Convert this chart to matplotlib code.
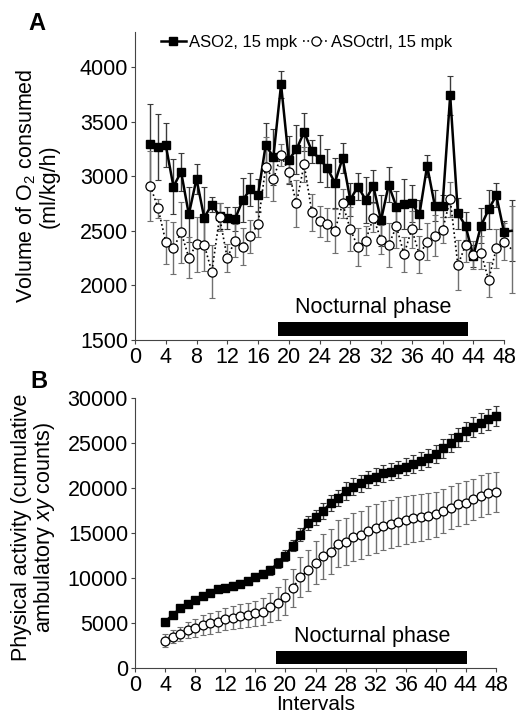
"""O2 consumption (A) and cumulative ambulatory activity (B) per interval,
ASO2 vs ASOctrl at 15 mpk, with the nocturnal phase marked."""

import matplotlib

matplotlib.use("Agg")
import matplotlib.pyplot as plt

plt.rcParams["font.family"] = ["Liberation Sans", "DejaVu Sans"]
plt.rcParams["mathtext.fontset"] = "custom"
plt.rcParams["mathtext.rm"] = "Liberation Sans"
plt.rcParams["mathtext.it"] = "Liberation Sans:italic"

# ---- panel A: volume of O2 consumed (ml/kg/h), intervals 2..49 ----
intervals_a = list(range(2, 50))
aso2_vo2 = [3290, 3265, 3285, 2905, 3040, 2650, 2975, 2620, 2740, 2635, 2620, 2605,
            2780, 2880, 2825, 3285, 3175, 3840, 3150, 3245, 3405, 3230, 3160, 3075,
            2940, 3165, 2785, 2905, 2785, 2910, 2595, 2920, 2720, 2745, 2750, 2650,
            3095, 2730, 2725, 3740, 2660, 2545, 2270, 2545, 2695, 2825, 2490, 2500]
aso2_vo2_err = [375, 300, 200, 250, 175, 250, 135, 285, 70, 120, 100, 110,
                200, 150, 150, 205, 260, 120, 220, 225, 170, 105, 215, 170,
                230, 140, 150, 120, 210, 150, 230, 160, 140, 230, 170, 130,
                100, 140, 100, 180, 140, 130, 100, 160, 175, 110, 100, 280]
ctrl_vo2 = [2910, 2705, 2400, 2340, 2485, 2255, 2375, 2370, 2125, 2625, 2250, 2410,
            2355, 2450, 2560, 3085, 2970, 3195, 3035, 2750, 3110, 2670, 2585, 2560,
            2500, 2750, 2515, 2350, 2410, 2620, 2420, 2370, 2540, 2285, 2515, 2280,
            2400, 2455, 2505, 2790, 2185, 2370, 2280, 2300, 2050, 2340, 2400, 2330]
ctrl_vo2_err = [317, 90, 200, 240, 280, 190, 250, 240, 245, 130, 130, 150,
                170, 150, 120, 275, 195, 100, 100, 215, 160, 170, 140, 150,
                200, 130, 200, 175, 130, 130, 130, 200, 200, 160, 170, 170,
                170, 190, 120, 160, 230, 160, 130, 150, 160, 180, 170, 400]

# ---- panel B: cumulative ambulatory xy counts, intervals 4..48 ----
intervals_b = list(range(4, 49))
aso2_counts = [5150, 5880, 6620, 7060, 7540, 8010, 8380, 8750, 8930, 9120,
               9370, 9630, 10110, 10400, 10840, 11690, 12500, 13600, 14810, 16100,
               16730, 17460, 18310, 18930, 19670, 20140, 20510, 20950, 21250, 21620,
               21800, 22060, 22350, 22640, 22980, 23340, 23820, 24410, 25000, 25620,
               26280, 26760, 27200, 27640, 28010]
aso2_counts_err = [250, 300, 300, 300, 300, 350, 350, 350, 350, 400,
                   400, 400, 450, 450, 500, 550, 600, 650, 700, 750,
                   800, 850, 900, 900, 950, 950, 950, 950, 950, 950,
                   950, 950, 950, 1000, 1000, 1000, 1000, 1050, 1050, 1050,
                   1100, 1100, 1100, 1150, 1150]
ctrl_counts = [3050, 3490, 3750, 4230, 4490, 4780, 4960, 5150, 5440, 5590,
               5770, 5880, 6070, 6250, 6730, 7170, 7900, 8930, 10110, 10840,
               11690, 12430, 12940, 13790, 14040, 14520, 14780, 15260, 15510, 15810,
               15990, 16250, 16470, 16620, 16730, 16910, 17090, 17460, 17830, 18200,
               18380, 18750, 19120, 19410, 19560]
ctrl_counts_err = [700, 700, 800, 900, 1000, 1100, 1150, 1200, 1250, 1300,
                   1300, 1350, 1400, 1500, 1650, 1800, 2000, 2100, 2200, 2300,
                   2400, 2500, 2550, 2600, 2600, 2650, 2650, 2700, 2700, 2700,
                   2700, 2700, 2650, 2650, 2600, 2550, 2500, 2450, 2400, 2400,
                   2350, 2300, 2300, 2250, 2250]

# nocturnal phase (interval start, end)
night_a = (18.6, 43.3)
night_b = (18.8, 44.2)

x_ticks = list(range(0, 49, 4))
legend_labels = ["ASO2, 15 mpk", "ASOctrl, 15 mpk"]

FS = 15.5


def draw_series(ax, x, y, yerr, n_marked, ms_sq, ms_ci):
    ax.errorbar(x, y[0], yerr=yerr[0], fmt="none", ecolor="#3a3a3a",
                elinewidth=1.0, capsize=2, capthick=0.8, zorder=2, clip_on=False)
    ax.errorbar(x, y[1], yerr=yerr[1], fmt="none", ecolor="#707070",
                elinewidth=1.0, capsize=2, capthick=0.8, zorder=2, clip_on=False)
    h2, = ax.plot(x, y[0], "-", color="black", lw=1.8, marker="s", ms=ms_sq,
                  mfc="black", mec="black", markevery=slice(0, n_marked),
                  zorder=3, clip_on=False)
    hc, = ax.plot(x, y[1], ":", color="black", lw=1.2, marker="o", ms=ms_ci,
                  mfc="white", mec="black", mew=0.9, markevery=slice(0, n_marked),
                  zorder=4, clip_on=False)
    return h2, hc


def style_axes(ax):
    for side in ("top", "right"):
        ax.spines[side].set_visible(False)
    for side in ("left", "bottom"):
        ax.spines[side].set_linewidth(0.8)
        ax.spines[side].set_color("#444")
    ax.tick_params(direction="out", length=3, width=0.8, colors="#444",
                   labelcolor="black", labelsize=FS, pad=2)
    ax.set_xticks(x_ticks)
    ax.set_xlim(0, 48)


def main():
    fig = plt.figure(figsize=(5.28, 7.18), dpi=100)

    # ---- A ----
    ax_a = fig.add_axes([135 / 528, 1 - 340 / 718, 369 / 528, 308 / 718])
    h2, hc = draw_series(ax_a, intervals_a, (aso2_vo2, ctrl_vo2),
                         (aso2_vo2_err, ctrl_vo2_err), 47, 6.4, 6.6)
    style_axes(ax_a)
    ax_a.set_ylim(1500, 4320)
    ax_a.set_yticks([1500, 2000, 2500, 3000, 3500, 4000])
    ax_a.broken_barh([(night_a[0], night_a[1] - night_a[0])], (1540, 125),
                     facecolors="black")
    ax_a.text(sum(night_a) / 2, 1700, "Nocturnal phase", ha="center",
              va="bottom", fontsize=FS)
    ax_a.set_ylabel("Volume of O$_2$ consumed\n(ml/kg/h)", fontsize=FS,
                    linespacing=1.0)
    ax_a.yaxis.set_label_coords(-0.205, 0.5)
    ax_a.legend([h2, hc], legend_labels, loc="center", ncol=2, frameon=False,
                bbox_to_anchor=(0.465, 0.965), fontsize=12, handlelength=1.5,
                handletextpad=0.2, columnspacing=0.35, borderaxespad=0)
    fig.text(28 / 528, 1 - 23 / 718, "A", fontsize=17, fontweight="bold",
             va="center")

    # ---- B ----
    ax_b = fig.add_axes([135 / 528, 1 - 668 / 718, 361 / 528, 270 / 718])
    draw_series(ax_b, intervals_b, (aso2_counts, ctrl_counts),
                (aso2_counts_err, ctrl_counts_err), len(intervals_b), 6.2, 6.4)
    style_axes(ax_b)
    ax_b.set_ylim(0, 30000)
    ax_b.set_yticks(range(0, 30001, 5000))
    ax_b.broken_barh([(night_b[0], night_b[1] - night_b[0])], (440, 1400),
                     facecolors="black")
    ax_b.text(sum(night_b) / 2, 2300, "Nocturnal phase", ha="center",
              va="bottom", fontsize=FS)
    ax_b.set_ylabel("Physical activity (cumulative\nambulatory $xy$ counts)",
                    fontsize=FS, linespacing=1.0)
    ax_b.yaxis.set_label_coords(-0.215, 0.52)
    ax_b.set_xlabel("Intervals", fontsize=15, labelpad=-1)
    fig.text(30 / 528, 1 - 381 / 718, "B", fontsize=17, fontweight="bold",
             va="center")

    fig.savefig("out.png", dpi=100)


if __name__ == "__main__":
    main()
